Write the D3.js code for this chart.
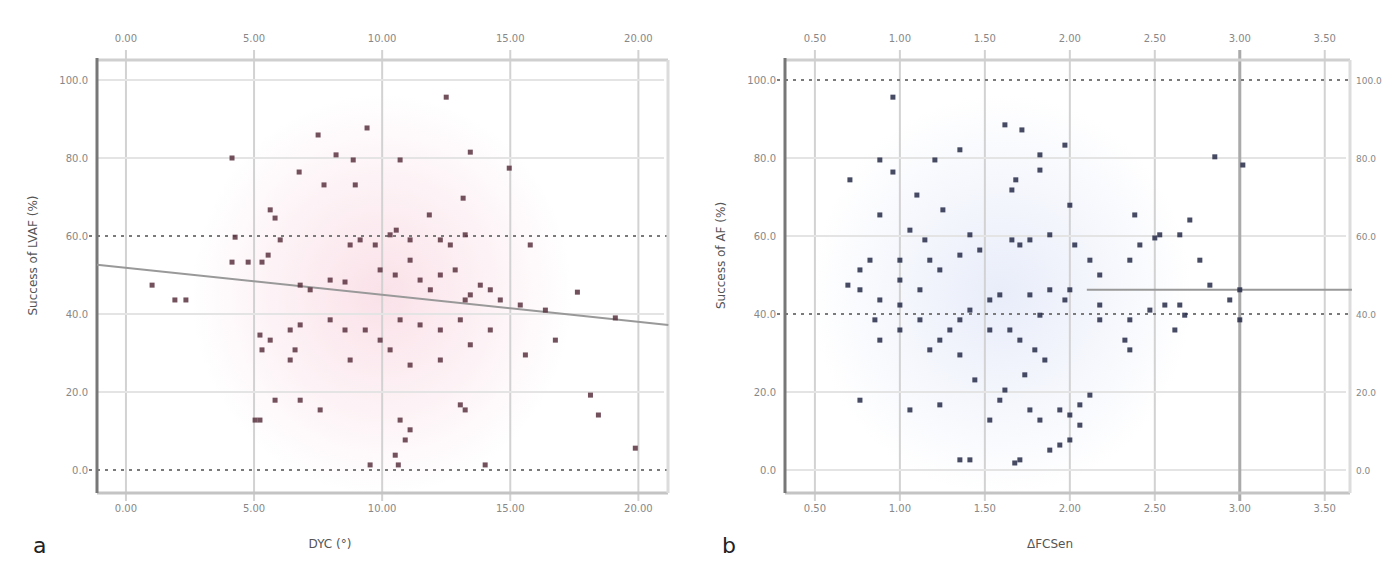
<!DOCTYPE html>
<html>
<head>
<meta charset="utf-8">
<script src="https://cdn.jsdelivr.net/npm/d3@7"></script>
<style>
    body { margin: 0; background: #fff; }
    text { font-family: "DejaVu Sans", sans-serif; }
    .tick-label { font-size: 10px; fill: #888; }
    .tick-label.right { font-size: 9px; }
    .title { font-size: 12px; fill: #555; }
    .panel-tag { font-size: 22px; fill: #222; }
</style>
</head>
<body>
<svg id="chart" width="1389" height="562"></svg>
<script>
// panel a: DYC vs success
const xTicksA = [0, 5, 10, 15, 20];
const yTicksA = [100, 80, 60, 40, 20, 0];
const dashedA = [60, 0];
const dycA = [4.14, 7.5, 8.2, 6.76, 7.73, 9.41, 8.87, 8.95, 10.7, 12.5, 13.44, 14.96, 13.16, 11.84, 10.55,
    11.09, 10.31, 9.14, 9.73, 8.75, 12.27, 12.66, 13.24, 15.78, 5.63, 5.82, 6.02, 5.55, 5.31, 4.14, 4.77, 4.26,
    1.02, 1.91, 2.34, 6.8, 7.19, 7.97, 8.55, 9.92, 10.51, 11.09, 11.48, 11.88, 12.27, 12.85, 13.24, 13.44, 13.83,
    14.22, 14.61, 15.39, 16.37, 17.62, 19.1, 16.76, 15.59, 14.22, 13.05, 12.27, 11.48, 10.7, 9.92, 9.34, 8.55,
    7.97, 6.8, 6.41, 5.23, 5.63, 5.31, 6.41, 6.6, 8.75, 10.31, 11.09, 12.27, 13.44, 6.8, 7.58, 5.23, 5.82, 10.7,
    11.09, 10.9, 10.51, 10.63, 9.53, 13.05, 13.24, 18.13, 18.44, 19.88, 14.02, 5.04];
const successA = [80.0, 85.9, 80.8, 76.4, 73.1, 87.7, 79.5, 73.1, 79.5, 95.6, 81.5, 77.4, 69.7, 65.4, 61.5,
    59.0, 60.3, 59.0, 57.7, 57.7, 59.0, 57.7, 60.3, 57.7, 66.7, 64.6, 59.0, 55.1, 53.3, 53.3, 53.3, 59.7,
    47.4, 43.6, 43.6, 47.4, 46.2, 48.7, 48.2, 51.3, 50.0, 53.8, 48.7, 46.2, 50.0, 51.3, 43.6, 44.9, 47.4,
    46.2, 43.6, 42.3, 41.0, 45.6, 39.0, 33.3, 29.5, 35.9, 38.5, 35.9, 37.2, 38.5, 33.3, 35.9, 35.9,
    38.5, 37.2, 35.9, 34.6, 33.3, 30.8, 28.2, 30.8, 28.2, 30.8, 26.9, 28.2, 32.1, 17.9, 15.4, 12.8, 17.9, 12.8,
    10.3, 7.7, 3.8, 1.3, 1.3, 16.7, 15.4, 19.2, 14.1, 5.6, 1.3, 12.8];
const fitA = { x: [-1.13, 21.17], y: [52.6, 37.2] };

// panel b: AFCSen vs success
const xTicksB = [0.5, 1.0, 1.5, 2.0, 2.5, 3.0, 3.5];
const yTicksB = [100, 80, 60, 40, 20, 0];
const dashedB = [100, 40];
const afcB = [0.959, 0.882, 0.959, 0.706, 1.1, 1.206, 1.353, 1.253, 0.882, 1.059, 1.147, 1.412, 1.353, 1.47,
    1.618, 1.718, 1.824, 1.682, 1.659, 1.824, 1.971, 2.0, 1.659, 1.706, 1.765, 1.882, 2.029, 2.118, 2.176, 2.353,
    2.412, 2.382, 2.5, 2.647, 2.706, 2.529, 2.765, 2.824, 3.0, 2.853, 3.018, 2.941, 3.0, 2.647, 2.559, 2.353,
    2.324, 2.353, 2.176, 2.0, 1.971, 1.882, 1.765, 1.824, 1.588, 1.529, 1.412, 1.353, 1.294, 1.235, 1.118, 1.0,
    0.882, 0.765, 0.694, 0.765, 0.824, 1.0, 1.0, 1.118, 1.176, 1.235, 1.529, 1.647, 1.706, 1.794, 1.853, 1.735,
    1.618, 1.588, 1.765, 1.824, 1.941, 2.0, 2.059, 2.059, 2.118, 1.941, 1.882, 2.0, 1.706, 1.676, 1.353, 1.412,
    1.529, 0.765, 1.059, 1.235, 1.441, 1.353, 1.176, 1.0, 0.853, 0.882, 2.176, 2.471, 2.618, 2.676];
const successB = [95.6, 79.5, 76.4, 74.4, 70.5, 79.5, 82.1, 66.7, 65.4, 61.5, 59.0, 60.3, 55.1, 56.4,
    88.5, 87.2, 80.8, 74.4, 71.8, 76.9, 83.3, 67.9, 59.0, 57.7, 59.0, 60.3, 57.7, 53.8, 50.0, 53.8,
    57.7, 65.4, 59.5, 60.3, 64.1, 60.3, 53.8, 47.4, 46.2, 80.3, 78.2, 43.6, 38.5, 42.3, 42.3, 38.5,
    33.3, 30.8, 38.5, 46.2, 43.6, 46.2, 44.9, 39.7, 44.9, 43.6, 41.0, 38.5, 35.9, 33.3, 38.5, 42.3,
    43.6, 46.2, 47.4, 51.3, 53.8, 53.8, 48.7, 46.2, 53.8, 51.3, 35.9, 35.9, 33.3, 30.8, 28.2, 24.4,
    20.5, 17.9, 15.4, 12.8, 15.4, 14.1, 16.7, 11.5, 19.2, 6.4, 5.1, 7.7, 2.6, 1.8, 2.6, 2.6,
    12.8, 17.9, 15.4, 16.7, 23.1, 29.5, 30.8, 35.9, 38.5, 33.3, 42.3, 41.0, 35.9, 39.7];
const fitB = { x: [2.1, 3.66], y: [46.2, 46.2] };

const svg = d3.select('#chart');
svg.append('rect').attr('width', 1389).attr('height', 562).attr('fill', '#fff');

function drawPanel(cfg) {
    const { left, right, top, bottom } = cfg.box;
    const x = d3.scaleLinear().domain(cfg.xDomain).range([left, right]);
    const y = d3.scaleLinear().domain([0, 100]).range([470, 80]);
    const g = svg.append('g');

    // soft cloud behind points
    const grad = svg.append('defs').append('radialGradient').attr('id', cfg.id + '-cloud');
    grad.append('stop').attr('offset', '0%').attr('stop-color', cfg.cloud).attr('stop-opacity', 0.55);
    grad.append('stop').attr('offset', '100%').attr('stop-color', cfg.cloud).attr('stop-opacity', 0);
    g.append('ellipse')
        .attr('cx', x(cfg.cloudAt[0])).attr('cy', y(cfg.cloudAt[1]))
        .attr('rx', 190).attr('ry', 200)
        .attr('fill', `url(#${cfg.id}-cloud)`);

    // grid
    g.selectAll('.vgrid').data(cfg.xTicks).enter().append('line')
        .attr('x1', d => x(d)).attr('x2', d => x(d))
        .attr('y1', top - 10).attr('y2', bottom + 8)
        .attr('stroke', '#d2d2d2').attr('stroke-width', 2);
    g.selectAll('.hgrid').data(cfg.yTicks.filter(d => !cfg.dashed.includes(d))).enter().append('line')
        .attr('x1', left).attr('x2', right)
        .attr('y1', d => y(d)).attr('y2', d => y(d))
        .attr('stroke', '#e4e4e4').attr('stroke-width', 2);
    if (cfg.strongX != null) {
        g.append('line')
            .attr('x1', x(cfg.strongX)).attr('x2', x(cfg.strongX))
            .attr('y1', top - 10).attr('y2', bottom + 8)
            .attr('stroke', '#aaa').attr('stroke-width', 3);
    }
    g.selectAll('.dash').data(cfg.dashed).enter().append('line')
        .attr('x1', left - 8).attr('x2', right + 4)
        .attr('y1', d => y(d)).attr('y2', d => y(d))
        .attr('stroke', '#7a7a7a').attr('stroke-width', 2)
        .attr('stroke-dasharray', '3,5');

    // frame
    g.append('line').attr('x1', left).attr('x2', right + 4).attr('y1', top).attr('y2', top)
        .attr('stroke', '#cfcfcf').attr('stroke-width', 3);
    g.append('line').attr('x1', left).attr('x2', right + 4).attr('y1', bottom).attr('y2', bottom)
        .attr('stroke', '#c4c4c4').attr('stroke-width', 3);
    g.append('line').attr('x1', right + 4).attr('x2', right + 4).attr('y1', top).attr('y2', bottom)
        .attr('stroke', '#dcdcdc').attr('stroke-width', 3);
    g.append('line').attr('x1', left).attr('x2', left).attr('y1', top - 2).attr('y2', bottom)
        .attr('stroke', '#777').attr('stroke-width', 3);

    // fit line
    g.append('line')
        .attr('x1', x(cfg.fit.x[0])).attr('y1', y(cfg.fit.y[0]))
        .attr('x2', x(cfg.fit.x[1])).attr('y2', y(cfg.fit.y[1]))
        .attr('stroke', '#999').attr('stroke-width', 2);

    // points
    g.selectAll('.pt').data(cfg.xs.map((v, i) => [v, cfg.ys[i]])).enter().append('rect')
        .attr('x', d => x(d[0]) - 2.5).attr('y', d => y(d[1]) - 2.5)
        .attr('width', 5).attr('height', 5)
        .attr('fill', cfg.dot).attr('opacity', 0.85);

    // tick labels
    const fx = d3.format(cfg.xFormat);
    [top - 18, bottom + 19].forEach(ty => {
        g.selectAll(null).data(cfg.xTicks).enter().append('text')
            .attr('class', 'tick-label')
            .attr('x', d => x(d)).attr('y', ty)
            .attr('text-anchor', 'middle')
            .text(d => fx(d));
    });
    g.selectAll(null).data(cfg.yTicks).enter().append('text')
        .attr('class', 'tick-label')
        .attr('x', left - 9).attr('y', d => y(d) + 4)
        .attr('text-anchor', 'end')
        .text(d => d.toFixed(1));
    if (cfg.rightLabels) {
        g.selectAll(null).data(cfg.yTicks).enter().append('text')
            .attr('class', 'tick-label right')
            .attr('x', right + 10).attr('y', d => y(d) + 4)
            .text(d => d.toFixed(1));
    }

    // titles
    g.append('text').attr('class', 'title')
        .attr('transform', `translate(${left - 60},${y(55)}) rotate(-90)`)
        .attr('text-anchor', 'middle')
        .text(cfg.yTitle);
    g.append('text').attr('class', 'title')
        .attr('x', cfg.xTitleAt).attr('y', 548)
        .attr('text-anchor', 'middle')
        .text(cfg.xTitle);
    g.append('text').attr('class', 'panel-tag')
        .attr('x', cfg.tagAt).attr('y', 553)
        .text(cfg.tag);
}

drawPanel({
    id: 'a',
    box: { left: 97, right: 664, top: 60, bottom: 493 },
    xDomain: [-1.13, 21.0],
    xTicks: xTicksA, yTicks: yTicksA, dashed: dashedA,
    xs: dycA, ys: successA, fit: fitA,
    dot: '#5a3340', cloud: '#f6c9d6', cloudAt: [10, 45],
    xFormat: '.2f',
    yTitle: 'Success of LVAF (%)', xTitle: 'DYC (°)', xTitleAt: 330,
    tag: 'a', tagAt: 33,
});

drawPanel({
    id: 'b',
    box: { left: 785, right: 1346, top: 60, bottom: 493 },
    xDomain: [0.324, 3.625],
    xTicks: xTicksB, yTicks: yTicksB, dashed: dashedB,
    strongX: 3.0,
    xs: afcB, ys: successB, fit: fitB,
    dot: '#262a48', cloud: '#d6def5', cloudAt: [1.6, 45],
    xFormat: '.2f', rightLabels: true,
    yTitle: 'Success of AF (%)', xTitle: 'ΔFCSen', xTitleAt: 1050,
    tag: 'b', tagAt: 722,
});
</script>
</body>
</html>
